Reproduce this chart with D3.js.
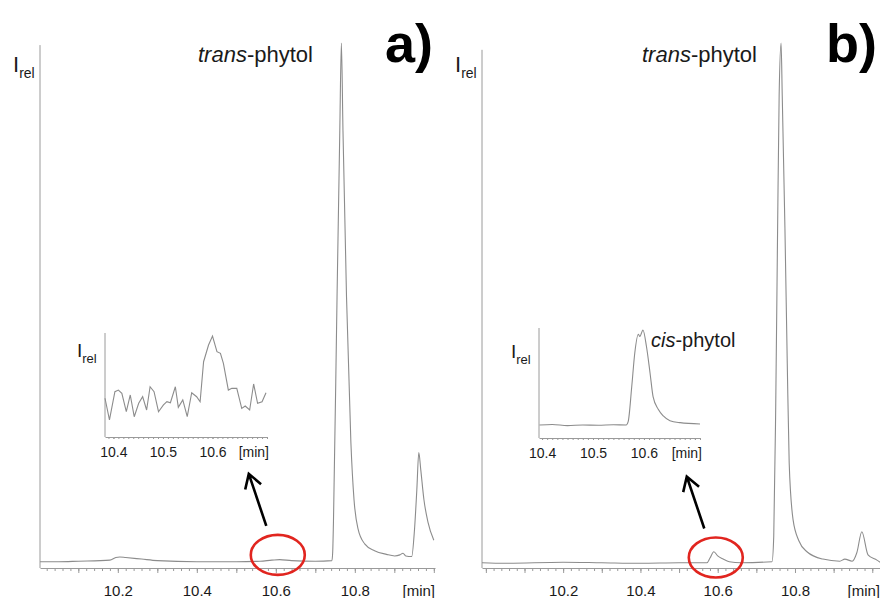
<!DOCTYPE html>
<html>
<head>
<meta charset="utf-8">
<script src="https://cdn.jsdelivr.net/npm/d3@7"></script>
<style>
  body { margin: 0; background: #fff; }
  svg { font-family: "Liberation Sans", Arial, sans-serif; }
</style>
</head>
<body>
<svg id="chart" width="880" height="598"></svg>
<script>
// ---- data (time in min, relative intensity 0..100) ----
var mainATime = [10.003, 10.05, 10.10, 10.18, 10.195, 10.205, 10.22, 10.26, 10.30, 10.40, 10.50, 10.56, 10.59, 10.61, 10.64, 10.70, 10.742,
                 10.744, 10.746, 10.755, 10.762, 10.766, 10.770, 10.779, 10.790, 10.798, 10.808, 10.825, 10.850, 10.880, 10.901, 10.914, 10.922, 10.929,
                 10.944, 10.951, 10.957, 10.962, 10.967, 10.975, 10.985, 11.0];
var mainAInt  = [1.2, 1.2, 1.3, 1.5, 2.0, 2.1, 2.0, 1.7, 1.4, 1.2, 1.2, 1.3, 1.5, 1.6, 1.4, 1.3, 1.4,
                 3.0, 9.0, 51.6, 83.4, 100, 83.4, 51.6, 24, 13, 7.5, 4.6, 3.3, 2.6, 2.3, 2.5, 2.8, 2.3,
                 2.2, 7.2, 14.9, 22, 18.7, 13, 8.8, 5.3];

var mainBTime = [9.99, 10.05, 10.2, 10.3, 10.4, 10.5, 10.565, 10.572, 10.580, 10.590, 10.600, 10.614, 10.630, 10.66, 10.7405,
                 10.745, 10.750, 10.755, 10.759, 10.764, 10.767, 10.774, 10.780, 10.785, 10.795, 10.810, 10.831, 10.872, 10.916, 10.929,
                 10.948, 10.960, 10.973, 10.989, 11.012, 11.02];
var mainBInt  = [1.0, 0.9, 1.1, 1.0, 0.9, 1.0, 1.0, 1.0, 1.9, 3.1, 2.3, 1.7, 1.2, 1.0, 1.2,
                 6, 30, 64.6, 90, 100, 90, 64.6, 39, 20, 9.2, 5.2, 3.1, 1.7, 1.3, 1.7,
                 1.3, 2.9, 6.9, 2.5, 1.5, 1.1];

var insetATime = [10.383, 10.392, 10.403, 10.410, 10.417, 10.426, 10.434, 10.442, 10.451, 10.459, 10.467, 10.474, 10.482, 10.491,
                  10.501, 10.508, 10.515, 10.525, 10.531, 10.540, 10.549, 10.558, 10.568, 10.575, 10.582, 10.592, 10.600, 10.609,
                  10.616, 10.622, 10.632, 10.639, 10.649, 10.659, 10.666, 10.675, 10.683, 10.691, 10.700, 10.708];
var insetAInt  = [38, 16.7, 44.4, 46, 42.8, 24.8, 41.2, 19.9, 33, 39.5, 26.5, 49.3, 44.4, 24.8,
                  31.4, 34.6, 33.6, 49.3, 29.1, 36.3, 19.9, 43.4, 39.5, 34.6, 73.8, 90.2, 99, 83.6,
                  82, 72.2, 46, 47.7, 47.7, 28.1, 30.4, 26.5, 52, 33, 34.6, 43.4];

var insetBTime = [10.395, 10.42, 10.45, 10.48, 10.51, 10.54, 10.565, 10.569, 10.576, 10.582, 10.589, 10.592, 10.595, 10.598,
                  10.605, 10.612, 10.618, 10.628, 10.638, 10.651, 10.671, 10.71];
var insetBInt  = [12, 12.5, 11.5, 12, 11.8, 12.3, 12, 15.1, 47.5, 78.7, 96, 94, 97, 100,
                  84.5, 60, 38, 26.6, 20.4, 16, 14.2, 13];

var mainTickLabels  = [10.2, 10.4, 10.6, 10.8];
var insetTickLabels = [10.4, 10.5, 10.6];
var peakLabel = "phytol";

var svg = d3.select("#chart");
var gray = "#8c8c8c", axisGray = "#9a9a9a", ink = "#1a1a1a";

function toPoints(ts, vs) { return ts.map(function(t, i) { return [t, vs[i]]; }); }

function timeAxis(x, y0, minorStep, majorStep, labels, tickLen, pad, fontSize) {
  var d0 = x.domain()[0], d1 = x.domain()[1];
  var minors = d3.range(Math.ceil(d0 / minorStep) * minorStep, d1, minorStep);
  var majors = d3.range(Math.ceil(d0 / majorStep) * majorStep, d1, majorStep);
  svg.append("g")
      .attr("transform", "translate(0," + y0 + ")")
      .attr("color", axisGray)
      .call(d3.axisBottom(x).tickValues(minors).tickSize(tickLen[0]).tickSizeOuter(0).tickFormat(""));
  var g = svg.append("g")
      .attr("transform", "translate(0," + y0 + ")")
      .attr("color", axisGray)
      .call(d3.axisBottom(x).tickValues(majors).tickSize(tickLen[1]).tickSizeOuter(0).tickPadding(pad)
        .tickFormat(function(d) {
          var hit = labels.filter(function(l) { return Math.abs(l - d) < 1e-6; });
          return hit.length ? d3.format(".1f")(d) : "";
        }));
  g.select(".domain").remove();
  g.selectAll("text").attr("fill", ink).attr("font-size", fontSize);
}

function subLabel(xp, yp, big, small, shift) {
  var t = svg.append("text").attr("x", xp).attr("y", yp).attr("fill", ink).attr("font-size", big).text("I");
  t.append("tspan").attr("font-size", small).attr("dy", shift).text("rel");
}

function drawMain(cfg) {
  var x = d3.scaleLinear().domain(cfg.xDomain).range(cfg.xRange);
  var y = d3.scaleLinear().domain([0, 100]).range([568, 43]);
  timeAxis(x, 568, 0.02, 0.1, mainTickLabels, [3, 5], 12, 15);
  svg.append("line")
      .attr("x1", cfg.xRange[0]).attr("x2", cfg.xRange[0])
      .attr("y1", y(0)).attr("y2", y(cfg.axisTop))
      .attr("stroke", axisGray).attr("stroke-width", 1);
  svg.append("path")
      .datum(toPoints(cfg.time, cfg.val))
      .attr("fill", "none").attr("stroke", gray).attr("stroke-width", 1.1)
      .attr("d", d3.line().curve(d3.curveMonotoneX)
        .x(function(d) { return x(d[0]); }).y(function(d) { return y(d[1]); }));
  svg.append("text").attr("x", cfg.xRange[1]).attr("y", 596).attr("text-anchor", "end")
      .attr("fill", ink).attr("font-size", 15).text("[min]");
  subLabel(cfg.xRange[0] - 27, 72, 22, 14, 6);
  var lab = svg.append("text").attr("x", cfg.labelX).attr("y", 62).attr("fill", ink).attr("font-size", 22);
  lab.append("tspan").attr("font-style", "italic").text("trans");
  lab.append("tspan").text("-" + peakLabel);
  svg.append("text").attr("x", cfg.panelX).attr("y", 62).attr("fill", "#000")
      .attr("font-size", 54).attr("font-weight", "bold").text(cfg.panel);

  // red circle around the zoomed region + arrow up to the inset
  var cx = x(cfg.ring[0]), cy = y(cfg.ring[1]);
  svg.append("ellipse").attr("cx", cx).attr("cy", cy).attr("rx", 27).attr("ry", 20)
      .attr("fill", "none").attr("stroke", "#e1251f").attr("stroke-width", 2.6);
  var tail = [cx - 11.5, cy - 29], tip = [cx - 29, cy - 81];
  var ang = Math.atan2(tail[1] - tip[1], tail[0] - tip[0]), L = 16, spread = 0.55;
  svg.append("path")
      .attr("d", "M" + tail + "L" + tip +
                 "M" + [tip[0] + L * Math.cos(ang - spread), tip[1] + L * Math.sin(ang - spread)] + "L" + tip +
                 "L" + [tip[0] + L * Math.cos(ang + spread), tip[1] + L * Math.sin(ang + spread)])
      .attr("fill", "none").attr("stroke", "#000").attr("stroke-width", 2.6);
}

function drawInset(cfg) {
  var x = d3.scaleLinear().domain(cfg.xDomain).range(cfg.xRange);
  var y = d3.scaleLinear().domain([0, 100]).range([cfg.y0, cfg.yTop]);
  timeAxis(x, cfg.y0, 0.01, 0.1, insetTickLabels, [2, 2], 8, 14);
  svg.append("line")
      .attr("x1", cfg.xRange[0]).attr("x2", cfg.xRange[0])
      .attr("y1", y(0)).attr("y2", y(100) - 2)
      .attr("stroke", axisGray).attr("stroke-width", 1);
  svg.append("path")
      .datum(toPoints(cfg.time, cfg.val))
      .attr("fill", "none").attr("stroke", gray).attr("stroke-width", 1.1)
      .attr("d", d3.line().curve(cfg.smooth ? d3.curveMonotoneX : d3.curveLinear)
        .x(function(d) { return x(d[0]); }).y(function(d) { return y(d[1]); }));
  svg.append("text").attr("x", cfg.xRange[1] + 2).attr("y", cfg.y0 + 20).attr("text-anchor", "end")
      .attr("fill", ink).attr("font-size", 14).text("[min]");
  subLabel(cfg.xRange[0] - 28, cfg.y0 - 80, 19, 13, 6);
  if (cfg.cis) {
    var lab = svg.append("text").attr("x", cfg.cis[0]).attr("y", cfg.cis[1]).attr("fill", ink).attr("font-size", 20);
    lab.append("tspan").attr("font-style", "italic").text("cis");
    lab.append("tspan").text("-" + peakLabel);
  }
}

drawMain({ xDomain: [10.003, 11.003], xRange: [40, 435], axisTop: 99.6, time: mainATime, val: mainAInt,
           labelX: 198, panel: "a)", panelX: 385, ring: [10.605, 2.5] });
drawMain({ xDomain: [9.99, 11.02], xRange: [482, 880], axisTop: 98.7, time: mainBTime, val: mainBInt,
           labelX: 642, panel: "b)", panelX: 826, ring: [10.595, 2.0] });

drawInset({ xDomain: [10.383, 10.71], xRange: [105, 267], y0: 437, yTop: 335, time: insetATime, val: insetAInt });
drawInset({ xDomain: [10.394, 10.71], xRange: [539, 700], y0: 438, yTop: 330, time: insetBTime, val: insetBInt,
            smooth: true, cis: [651, 347] });
</script>
</body>
</html>
